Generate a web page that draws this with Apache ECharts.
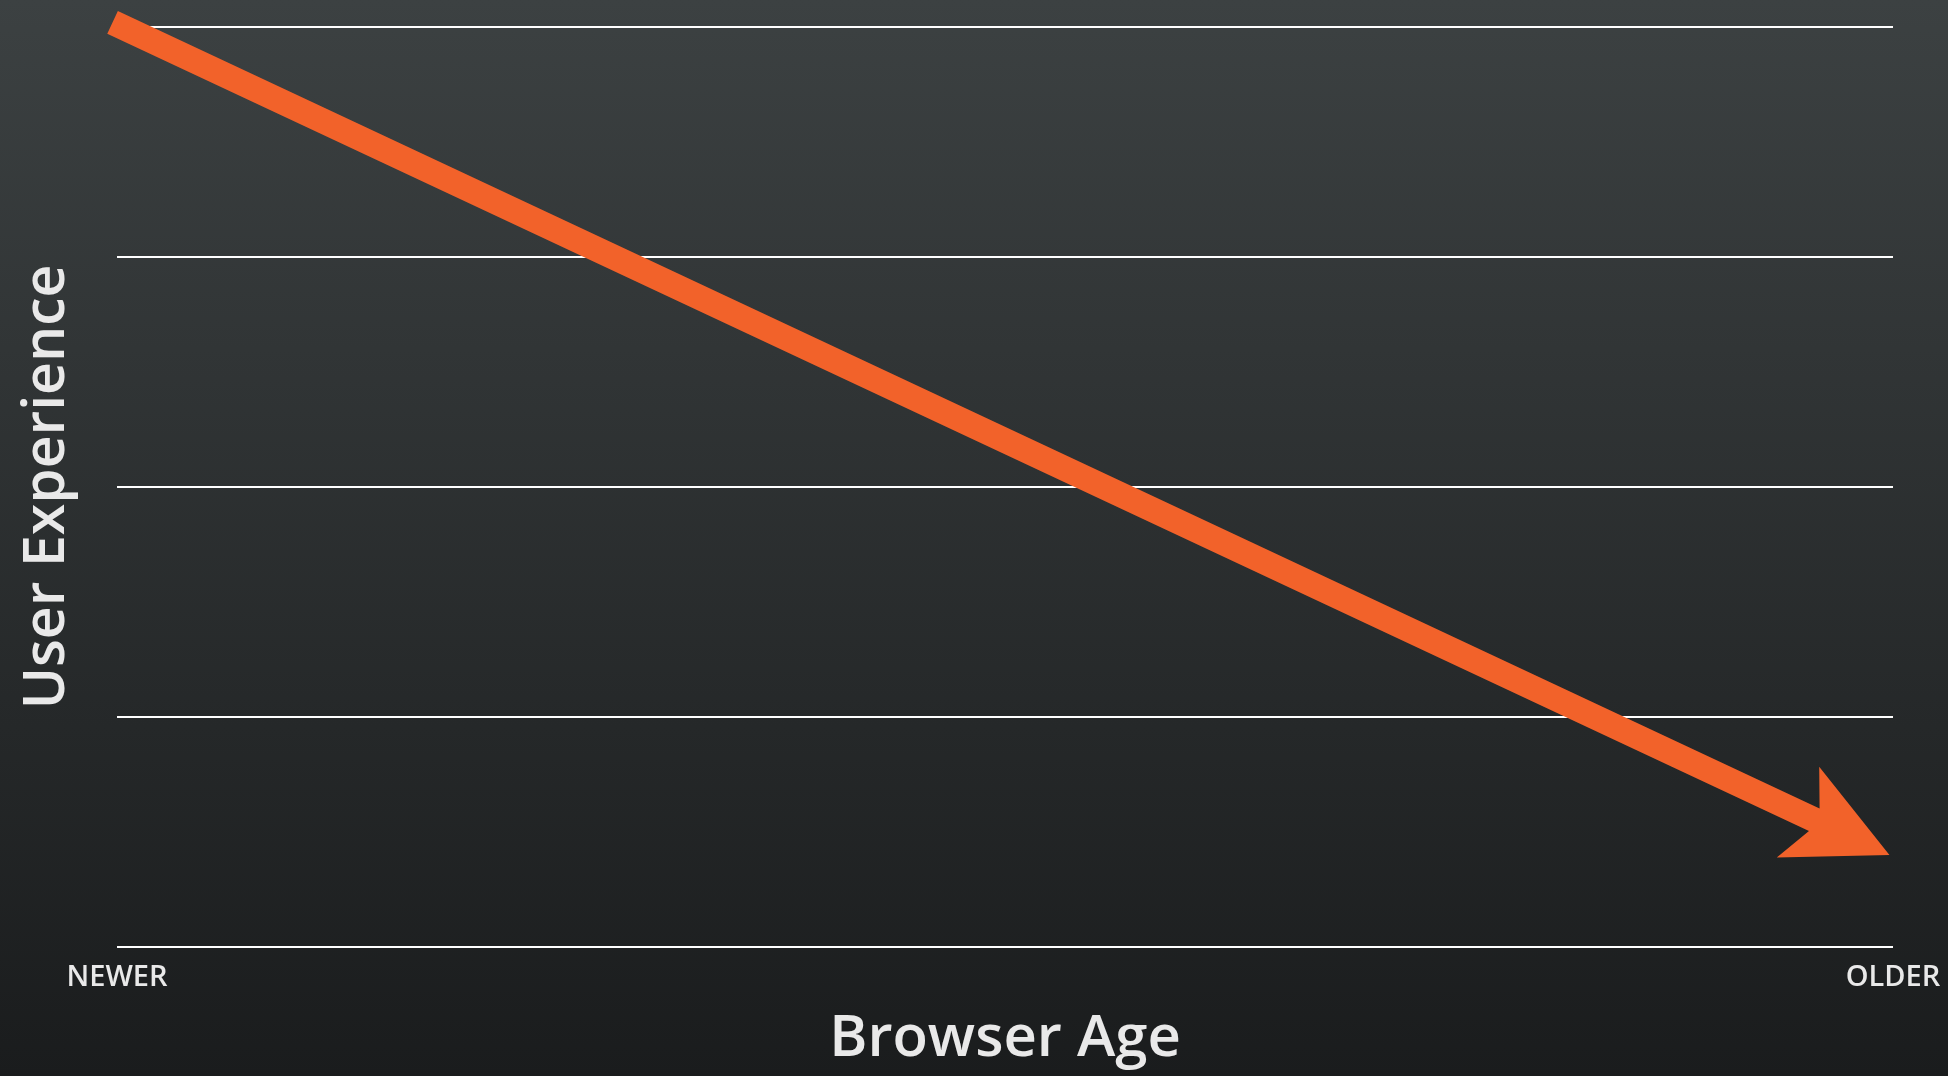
<!DOCTYPE html>
<html>
<head>
<meta charset="utf-8">
<title>Browser Age vs User Experience</title>
<script src="https://cdn.jsdelivr.net/npm/echarts@6/dist/echarts.min.js"></script>
<style>
  html, body { margin: 0; padding: 0; }
  #chart { width: 1948px; height: 1076px; }
</style>
</head>
<body>
<div id="chart"></div>
<script>
// axis texts
var xLabels = ['NEWER', 'OLDER'];
var xName = 'Browser Age';
var yName = 'User Experience';

// the arrow: tail and tip, in axis units (x 0..100, y 0..4)
var arrowFrom = [-0.25, 4.02];
var arrowTo = [99.8, 0.4];

var orange = '#F2622A';
var textColor = '#E9E9E9';

var myChart = echarts.init(document.getElementById('chart'));

function renderArrow(params, api) {
    var p0 = api.coord([api.value(0), api.value(1)]);
    var p1 = api.coord([api.value(2), api.value(3)]);
    var dx = p1[0] - p0[0], dy = p1[1] - p0[1];
    var len = Math.sqrt(dx * dx + dy * dy);
    var u = [dx / len, dy / len];
    var n = [-u[1], u[0]];
    var h = 12.5;      // half shaft width
    var L = 101;       // head length
    var W = 50;        // half head width
    var N = 77;        // notch depth from tip
    var J = N + (L - N) * h / W;
    function pt(base, along, perp) {
        return [base[0] + u[0] * along + n[0] * perp, base[1] + u[1] * along + n[1] * perp];
    }
    return {
        type: 'polygon',
        shape: {
            points: [
                pt(p0, 0, h),
                pt(p1, -J, h),
                pt(p1, -L, W),
                p1,
                pt(p1, -L, -W),
                pt(p1, -J, -h),
                pt(p0, 0, -h)
            ]
        },
        style: { fill: orange }
    };
}

var option = {
    backgroundColor: {
        type: 'linear', x: 0, y: 0, x2: 0, y2: 1,
        colorStops: [
            { offset: 0, color: '#3C4142' },
            { offset: 1, color: '#1A1C1D' }
        ]
    },
    animation: false,
    grid: {
        left: 117,
        right: 55,
        top: 27,
        bottom: 129,
        containLabel: false,
        outerBoundsMode: 'none'
    },
    xAxis: {
        type: 'value',
        min: 0,
        max: 100,
        interval: 100,
        name: xName,
        nameLocation: 'middle',
        nameGap: 63,
        nameTextStyle: {
            color: textColor,
            fontFamily: 'Open Sans',
            fontWeight: 600,
            fontSize: 58
        },
        axisLine: { show: false },
        axisTick: { show: false },
        splitLine: { show: false },
        axisLabel: {
            margin: 16,
            color: textColor,
            fontFamily: 'Open Sans',
            fontWeight: 600,
            fontSize: 29,
            formatter: function (v) {
                return v === 0 ? xLabels[0] : xLabels[1];
            }
        }
    },
    yAxis: {
        type: 'value',
        min: 0,
        max: 4,
        interval: 1,
        name: yName,
        nameLocation: 'middle',
        nameRotate: 90,
        nameGap: 41,
        nameTextStyle: {
            color: textColor,
            fontFamily: 'Open Sans',
            fontWeight: 600,
            fontSize: 57
        },
        axisLine: { show: false },
        axisTick: { show: false },
        axisLabel: { show: false },
        splitLine: {
            show: true,
            lineStyle: { color: '#FFFFFF', width: 2 }
        }
    },
    series: [
        {
            type: 'custom',
            clip: false,
            renderItem: renderArrow,
            data: [[arrowFrom[0], arrowFrom[1], arrowTo[0], arrowTo[1]]]
        }
    ]
};

myChart.setOption(option);
</script>
</body>
</html>
